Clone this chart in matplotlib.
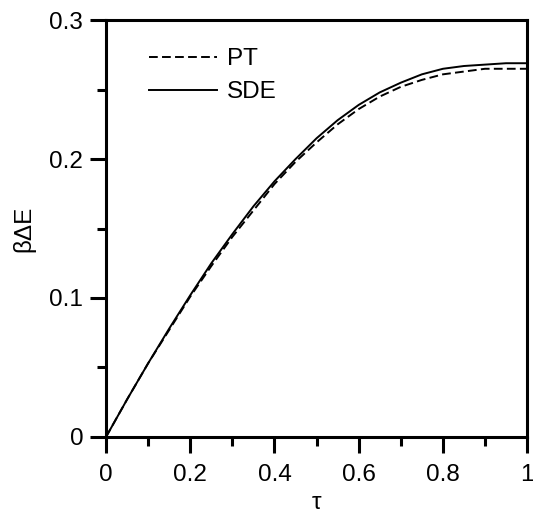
import numpy as np
import matplotlib
matplotlib.use("Agg")
import matplotlib.pyplot as plt
from matplotlib.ticker import MultipleLocator, FixedLocator

# Data
tau = [0, 0.05, 0.1, 0.15, 0.2, 0.25, 0.3, 0.35, 0.4, 0.45, 0.5,
       0.55, 0.6, 0.65, 0.7, 0.75, 0.8, 0.85, 0.9, 0.95, 1.0]
sde = [0, 0.027, 0.053, 0.078, 0.102, 0.125, 0.146, 0.166, 0.184, 0.200, 0.215,
       0.228, 0.239, 0.248, 0.255, 0.261, 0.265, 0.267, 0.268, 0.269, 0.269]
pt = [0, 0.027, 0.053, 0.077, 0.101, 0.123, 0.144, 0.163, 0.182, 0.198, 0.212,
      0.225, 0.236, 0.245, 0.252, 0.257, 0.261, 0.263, 0.265, 0.265, 0.265]

plt.rcParams['font.family'] = ['Liberation Sans', 'DejaVu Sans']

fig = plt.figure(figsize=(5.33, 5.17), dpi=100)
ax = fig.add_axes([0.199, 0.155, 0.790, 0.806])

ax.plot(tau, pt, color='black', lw=1.4, dashes=(4.5, 2.2), label='PT')
ax.plot(tau, sde, color='black', lw=1.4, label='SDE')

ax.set_xlim(0, 1)
ax.set_ylim(0, 0.3)

ax.xaxis.set_major_locator(FixedLocator([0, 0.2, 0.4, 0.6, 0.8, 1.0]))
ax.xaxis.set_minor_locator(MultipleLocator(0.1))
ax.yaxis.set_major_locator(FixedLocator([0, 0.1, 0.2, 0.3]))
ax.yaxis.set_minor_locator(MultipleLocator(0.05))
ax.set_xticklabels(['0', '0.2', '0.4', '0.6', '0.8', '1'])
ax.set_yticklabels(['0', '0.1', '0.2', '0.3'])

for s in ax.spines.values():
    s.set_linewidth(2.2)

ax.tick_params(which='major', direction='out', length=11.5, width=2.2,
               labelsize=17.5, pad=5, top=False, right=False)
ax.tick_params(axis='x', which='major', pad=8)
ax.tick_params(which='minor', direction='out', length=6.5, width=2.2,
               top=False, right=False)

ax.set_xlabel('τ', fontsize=17.5, labelpad=4)
ax.set_ylabel('βΔE', fontsize=17.5, labelpad=10)

ax.legend(loc='upper left', frameon=False, fontsize=17.5, handlelength=2.8,
          handletextpad=0.4, labelspacing=0.45, bbox_to_anchor=(0.05, 0.985))

fig.savefig('out.png', dpi=100)
